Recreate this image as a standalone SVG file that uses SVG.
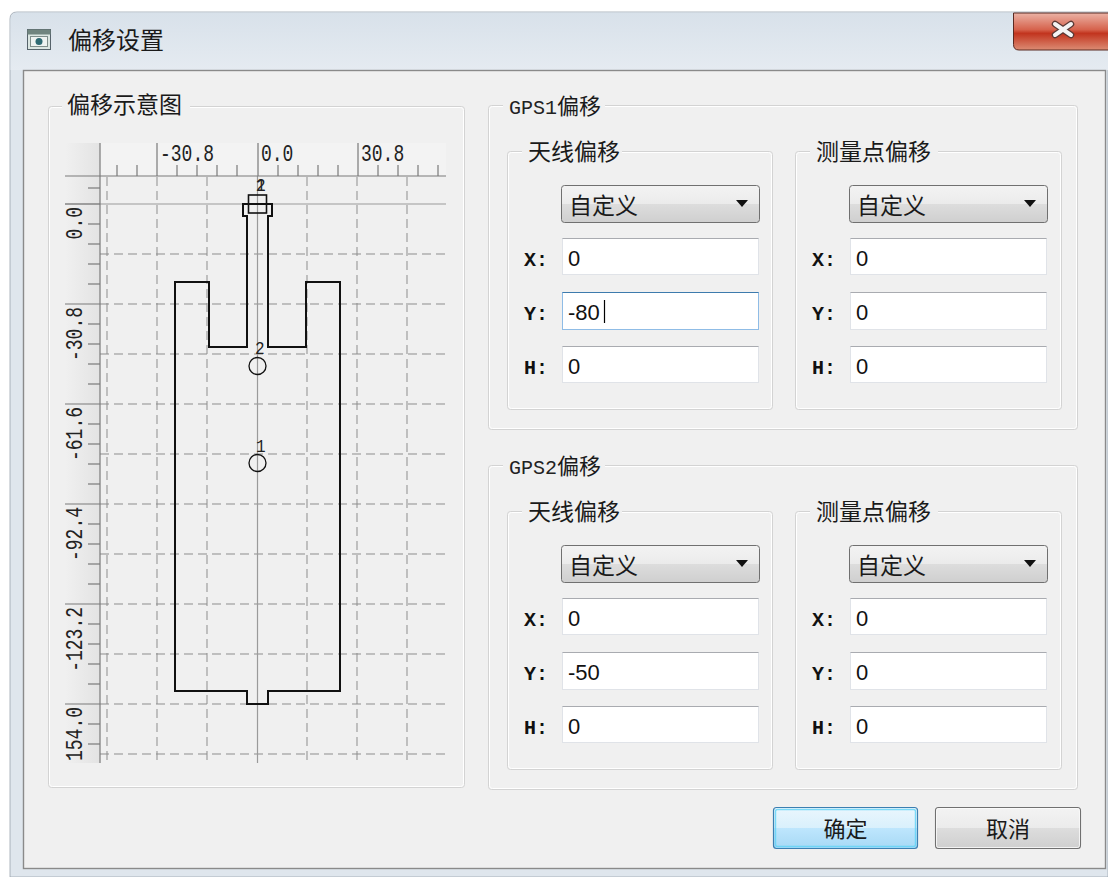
<svg xmlns="http://www.w3.org/2000/svg" width="1108" height="877" viewBox="0 0 1108 877">
<defs>
  <linearGradient id="gTitle" x1="0" y1="0" x2="0" y2="1">
    <stop offset="0" stop-color="#d8e1ea"/>
    <stop offset="1" stop-color="#e5ebf1"/>
  </linearGradient>
  <linearGradient id="gClose" x1="0" y1="0" x2="0" y2="1">
    <stop offset="0" stop-color="#ebb3a6"/>
    <stop offset="0.45" stop-color="#d6624c"/>
    <stop offset="0.55" stop-color="#c2341e"/>
    <stop offset="1" stop-color="#dc8c74"/>
  </linearGradient>
  <linearGradient id="gBtn" x1="0" y1="0" x2="0" y2="1">
    <stop offset="0" stop-color="#f3f3f3"/>
    <stop offset="0.5" stop-color="#ebebeb"/>
    <stop offset="0.5" stop-color="#dddddd"/>
    <stop offset="1" stop-color="#cfcfcf"/>
  </linearGradient>
  <linearGradient id="gBtnF" x1="0" y1="0" x2="0" y2="1">
    <stop offset="0" stop-color="#eaf6fd"/>
    <stop offset="0.5" stop-color="#d9f0fc"/>
    <stop offset="0.5" stop-color="#bee6fd"/>
    <stop offset="1" stop-color="#a7d9f5"/>
  </linearGradient>
  <linearGradient id="gRulerL" x1="0" y1="0" x2="1" y2="0">
    <stop offset="0" stop-color="#f0f0f0"/>
    <stop offset="1" stop-color="#e3e3e3"/>
  </linearGradient>
  <clipPath id="chartClip"><rect x="64" y="142" width="382" height="621"/></clipPath>
</defs>
<style>
  .cjk{font-family:"Noto Sans CJK SC","Noto Sans",sans-serif;fill:#1a1a1a}
  .mono{font-family:"Liberation Mono","DejaVu Sans Mono",monospace;fill:#222}
  .lbl{font-family:"Liberation Mono","DejaVu Sans Mono",monospace;font-size:20px;font-weight:bold;fill:#111}
  .val{font-family:"Liberation Sans",Arial,sans-serif;font-size:22px;fill:#111}
  .gb{fill:none;stroke:#d3d3d3;stroke-width:1}
  .gbh{fill:none;stroke:#ffffff;stroke-width:1}
  .gbt{fill:#f0f0f0}
  .inp{fill:#ffffff;stroke:#e0e3e8;stroke-width:1}
  .inpTop{stroke:#a9abb0;stroke-width:1}
  .combo{fill:url(#gBtn);stroke:#707070;stroke-width:1}
  .arrow{fill:#111}
  .grid{stroke:#8d8d8d;stroke-width:1;stroke-dasharray:9 5;fill:none}
  .rul{stroke:#7a7a7a;stroke-width:1.2;fill:none}
  .axis{stroke:#9a9a9a;stroke-width:1.2;fill:none}
  .shape{fill:none;stroke:#111;stroke-width:2}
  .pt{fill:none;stroke:#111;stroke-width:1.3}
</style>

<rect x="0" y="0" width="1108" height="877" fill="#ffffff"/>

<!-- window frame and title bar -->
<g id="window-frame">
  <path d="M10,19 Q10,12 17,12 H1108 V877 H10 Z" fill="#dfe6ed" stroke="#9aa3ad" stroke-width="0.8"/>
  <path d="M10.5,19 Q10.5,12.5 17,12.5 H1108 V70 H10.5 Z" fill="url(#gTitle)"/>
  <g id="title-icon">
    <rect x="27.5" y="29.5" width="23" height="20" fill="#dbe6e2" stroke="#56636b"/>
    <rect x="27.5" y="29.5" width="23" height="5" fill="#70857f"/>
    <rect x="30.5" y="36.5" width="17" height="10" fill="#eef3f1" stroke="#7f8f8b"/>
    <circle cx="39" cy="41.5" r="3.5" fill="#2f6b73"/>
  </g>
  <text class="cjk" x="68" y="49" font-size="24" fill="#222">偏移设置</text>
  <g id="close-button">
    <path d="M1013.5,13 H1110 V50 H1019 Q1013.5,50 1013.5,44.5 Z" fill="url(#gClose)" stroke="#5b2a22"/>
    <g stroke-linecap="round">
      <line x1="1055" y1="24" x2="1071" y2="35" stroke="#5a3a36" stroke-width="6.5"/>
      <line x1="1071" y1="24" x2="1055" y2="35" stroke="#5a3a36" stroke-width="6.5"/>
      <line x1="1055" y1="24" x2="1071" y2="35" stroke="#f4f4f4" stroke-width="4"/>
      <line x1="1071" y1="24" x2="1055" y2="35" stroke="#f4f4f4" stroke-width="4"/>
    </g>
  </g>
</g>

<!-- client area -->
<rect x="23.5" y="70.5" width="1082" height="798" fill="#f0f0f0" stroke="#8a8a8a" stroke-width="1.4"/>

<!-- left group: offset diagram -->
<g id="diagram-group">
  <rect class="gb" x="48.5" y="106.5" width="416" height="681" rx="3"/>
  <rect class="gbh" x="49.5" y="107.5" width="414" height="679" rx="3"/>
  <rect class="gbt" x="62" y="95" width="128" height="22"/>
  <text class="cjk" x="67" y="113" font-size="23">偏移示意图</text>

  <g id="chart" clip-path="url(#chartClip)">
    <!-- ruler bands -->
    <rect x="65" y="143" width="381" height="33" fill="#f3f3f3"/>
    <rect x="65" y="143" width="35" height="620" fill="url(#gRulerL)"/>

    <!-- dashed grid -->
    <g class="grid">
      <line x1="107" y1="177" x2="107" y2="763"/>
      <line x1="157" y1="177" x2="157" y2="763"/>
      <line x1="207" y1="177" x2="207" y2="763"/>
      <line x1="307" y1="177" x2="307" y2="763"/>
      <line x1="357" y1="177" x2="357" y2="763"/>
      <line x1="407" y1="177" x2="407" y2="763"/>
      <line x1="100" y1="254" x2="446" y2="254"/>
      <line x1="100" y1="304" x2="446" y2="304"/>
      <line x1="100" y1="354" x2="446" y2="354"/>
      <line x1="100" y1="404" x2="446" y2="404"/>
      <line x1="100" y1="454" x2="446" y2="454"/>
      <line x1="100" y1="504" x2="446" y2="504"/>
      <line x1="100" y1="554" x2="446" y2="554"/>
      <line x1="100" y1="604" x2="446" y2="604"/>
      <line x1="100" y1="654" x2="446" y2="654"/>
      <line x1="100" y1="704" x2="446" y2="704"/>
      <line x1="100" y1="754" x2="446" y2="754"/>
    </g>

    <!-- axes through origin -->
    <line class="axis" x1="257.5" y1="176" x2="257.5" y2="763"/>
    <line class="axis" x1="65" y1="204" x2="446" y2="204"/>

    <!-- rulers -->
    <g class="rul">
      <line x1="100" y1="143" x2="100" y2="763"/>
      <line x1="65" y1="176" x2="446" y2="176"/>
      <line x1="157" y1="143" x2="157" y2="176"/>
      <line x1="258" y1="143" x2="258" y2="176"/>
      <line x1="358" y1="143" x2="358" y2="176"/>
      <line x1="117" y1="165" x2="117" y2="176"/>
      <line x1="137" y1="165" x2="137" y2="176"/>
      <line x1="177" y1="165" x2="177" y2="176"/>
      <line x1="197" y1="165" x2="197" y2="176"/>
      <line x1="217" y1="165" x2="217" y2="176"/>
      <line x1="237" y1="165" x2="237" y2="176"/>
      <line x1="278" y1="165" x2="278" y2="176"/>
      <line x1="298" y1="165" x2="298" y2="176"/>
      <line x1="318" y1="165" x2="318" y2="176"/>
      <line x1="338" y1="165" x2="338" y2="176"/>
      <line x1="378" y1="165" x2="378" y2="176"/>
      <line x1="398" y1="165" x2="398" y2="176"/>
      <line x1="418" y1="165" x2="418" y2="176"/>
      <line x1="438" y1="165" x2="438" y2="176"/>
      <line x1="65" y1="204" x2="100" y2="204"/>
      <line x1="65" y1="304" x2="100" y2="304"/>
      <line x1="65" y1="404" x2="100" y2="404"/>
      <line x1="65" y1="504" x2="100" y2="504"/>
      <line x1="65" y1="604" x2="100" y2="604"/>
      <line x1="65" y1="704" x2="100" y2="704"/>
      <line x1="88" y1="188" x2="100" y2="188"/>
      <line x1="88" y1="224" x2="100" y2="224"/>
      <line x1="88" y1="244" x2="100" y2="244"/>
      <line x1="88" y1="264" x2="100" y2="264"/>
      <line x1="88" y1="284" x2="100" y2="284"/>
      <line x1="88" y1="324" x2="100" y2="324"/>
      <line x1="88" y1="344" x2="100" y2="344"/>
      <line x1="88" y1="364" x2="100" y2="364"/>
      <line x1="88" y1="384" x2="100" y2="384"/>
      <line x1="88" y1="424" x2="100" y2="424"/>
      <line x1="88" y1="444" x2="100" y2="444"/>
      <line x1="88" y1="464" x2="100" y2="464"/>
      <line x1="88" y1="484" x2="100" y2="484"/>
      <line x1="88" y1="524" x2="100" y2="524"/>
      <line x1="88" y1="544" x2="100" y2="544"/>
      <line x1="88" y1="564" x2="100" y2="564"/>
      <line x1="88" y1="584" x2="100" y2="584"/>
      <line x1="88" y1="624" x2="100" y2="624"/>
      <line x1="88" y1="644" x2="100" y2="644"/>
      <line x1="88" y1="664" x2="100" y2="664"/>
      <line x1="88" y1="684" x2="100" y2="684"/>
      <line x1="88" y1="724" x2="100" y2="724"/>
      <line x1="88" y1="744" x2="100" y2="744"/>
    </g>

    <!-- ruler labels -->
    <g class="mono" font-size="18">
      <text transform="translate(160,161) scale(1,1.3)">-30.8</text>
      <text transform="translate(261,161) scale(1,1.3)">0.0</text>
      <text transform="translate(361,161) scale(1,1.3)">30.8</text>
      <g text-anchor="end">
        <text transform="translate(82,207) rotate(-90) scale(1,1.3)">0.0</text>
        <text transform="translate(82,307) rotate(-90) scale(1,1.3)">-30.8</text>
        <text transform="translate(82,407) rotate(-90) scale(1,1.3)">-61.6</text>
        <text transform="translate(82,507) rotate(-90) scale(1,1.3)">-92.4</text>
        <text transform="translate(82,607) rotate(-90) scale(1,1.3)">-123.2</text>
        <text transform="translate(82,707) rotate(-90) scale(1,1.3)">154.0</text>
      </g>
    </g>

    <!-- vehicle outline -->
    <path class="shape" d="M175,282 H209 V347 H247 V216 H243 V204 H272 V216 H268 V347 H306 V282 H340 V691 H268 V704 H247 V691 H175 Z"/>
    <rect x="248.5" y="195" width="18" height="18" fill="none" stroke="#111" stroke-width="1.6"/>

    <!-- points -->
    <circle class="pt" cx="257.5" cy="366" r="8.5"/>
    <circle class="pt" cx="257.5" cy="463" r="8.5"/>
    <g class="mono" font-size="16" fill="#111">
      <text transform="translate(256,191) scale(1,1.2)">1</text>
      <text transform="translate(256,191) scale(1,1.2)">2</text>
      <text transform="translate(255,354) scale(1,1.2)">2</text>
      <text transform="translate(256,452) scale(1,1.2)">1</text>
    </g>
  </g>
</g>

<!-- GPS1 offset group -->
<g id="gps1">
  <rect class="gb" x="488.5" y="105.5" width="589" height="324" rx="3"/>
  <rect class="gbh" x="489.5" y="106.5" width="587" height="322" rx="3"/>
  <rect class="gbt" x="503" y="95" width="102" height="22"/>
  <text x="509" y="114"><tspan class="mono" font-size="20" fill="#111">GPS1</tspan><tspan class="cjk" font-size="22">偏移</tspan></text>

  <g id="gps1-antenna">
    <rect class="gb" x="507.5" y="151.5" width="265" height="258" rx="3"/>
    <rect class="gbh" x="508.5" y="152.5" width="263" height="256" rx="3"/>
    <rect class="gbt" x="522" y="140" width="100" height="24"/>
    <text class="cjk" x="528" y="160" font-size="23">天线偏移</text>
    <rect class="combo" x="561.5" y="185.5" width="198" height="37" rx="3"/>
    <text class="cjk" x="569" y="214" font-size="23">自定义</text>
    <polygon class="arrow" points="736,200 748,200 742,207"/>
    <rect class="inp" x="562.5" y="238.5" width="196" height="36"/>
    <line class="inpTop" x1="562.5" y1="238.5" x2="758.5" y2="238.5"/>
    <rect x="562.5" y="292.5" width="196" height="37" fill="#ffffff" stroke="#8fbce6" stroke-width="1"/>
    <line x1="562.5" y1="292.5" x2="758.5" y2="292.5" stroke="#3d7bad" stroke-width="1"/>
    <rect class="inp" x="562.5" y="346.5" width="196" height="36"/>
    <line class="inpTop" x1="562.5" y1="346.5" x2="758.5" y2="346.5"/>
    <text class="lbl" x="524" y="266">X:</text>
    <text class="lbl" x="524" y="320">Y:</text>
    <text class="lbl" x="524" y="374">H:</text>
    <text class="val" x="568" y="266">0</text>
    <text class="val" x="568" y="320">-80</text>
    <line x1="604.5" y1="300" x2="604.5" y2="323" stroke="#000" stroke-width="1.2"/>
    <text class="val" x="568" y="374">0</text>
  </g>

  <g id="gps1-point">
    <rect class="gb" x="795.5" y="151.5" width="266" height="258" rx="3"/>
    <rect class="gbh" x="796.5" y="152.5" width="264" height="256" rx="3"/>
    <rect class="gbt" x="810" y="140" width="128" height="24"/>
    <text class="cjk" x="816" y="160" font-size="23">测量点偏移</text>
    <rect class="combo" x="849.5" y="185.5" width="198" height="37" rx="3"/>
    <text class="cjk" x="857" y="214" font-size="23">自定义</text>
    <polygon class="arrow" points="1024,200 1036,200 1030,207"/>
    <rect class="inp" x="850.5" y="238.5" width="196" height="36"/>
    <line class="inpTop" x1="850.5" y1="238.5" x2="1046.5" y2="238.5"/>
    <rect class="inp" x="850.5" y="292.5" width="196" height="37"/>
    <line class="inpTop" x1="850.5" y1="292.5" x2="1046.5" y2="292.5"/>
    <rect class="inp" x="850.5" y="346.5" width="196" height="36"/>
    <line class="inpTop" x1="850.5" y1="346.5" x2="1046.5" y2="346.5"/>
    <text class="lbl" x="812" y="266">X:</text>
    <text class="lbl" x="812" y="320">Y:</text>
    <text class="lbl" x="812" y="374">H:</text>
    <text class="val" x="856" y="266">0</text>
    <text class="val" x="856" y="320">0</text>
    <text class="val" x="856" y="374">0</text>
  </g>
</g>

<!-- GPS2 offset group -->
<g id="gps2" transform="translate(0,360)">
  <rect class="gb" x="488.5" y="105.5" width="589" height="324" rx="3"/>
  <rect class="gbh" x="489.5" y="106.5" width="587" height="322" rx="3"/>
  <rect class="gbt" x="503" y="95" width="102" height="22"/>
  <text x="509" y="114"><tspan class="mono" font-size="20" fill="#111">GPS2</tspan><tspan class="cjk" font-size="22">偏移</tspan></text>

  <g id="gps2-antenna">
    <rect class="gb" x="507.5" y="151.5" width="265" height="258" rx="3"/>
    <rect class="gbh" x="508.5" y="152.5" width="263" height="256" rx="3"/>
    <rect class="gbt" x="522" y="140" width="100" height="24"/>
    <text class="cjk" x="528" y="160" font-size="23">天线偏移</text>
    <rect class="combo" x="561.5" y="185.5" width="198" height="37" rx="3"/>
    <text class="cjk" x="569" y="214" font-size="23">自定义</text>
    <polygon class="arrow" points="736,200 748,200 742,207"/>
    <rect class="inp" x="562.5" y="238.5" width="196" height="36"/>
    <line class="inpTop" x1="562.5" y1="238.5" x2="758.5" y2="238.5"/>
    <rect class="inp" x="562.5" y="292.5" width="196" height="37"/>
    <line class="inpTop" x1="562.5" y1="292.5" x2="758.5" y2="292.5"/>
    <rect class="inp" x="562.5" y="346.5" width="196" height="36"/>
    <line class="inpTop" x1="562.5" y1="346.5" x2="758.5" y2="346.5"/>
    <text class="lbl" x="524" y="266">X:</text>
    <text class="lbl" x="524" y="320">Y:</text>
    <text class="lbl" x="524" y="374">H:</text>
    <text class="val" x="568" y="266">0</text>
    <text class="val" x="568" y="320">-50</text>
    <text class="val" x="568" y="374">0</text>
  </g>

  <g id="gps2-point">
    <rect class="gb" x="795.5" y="151.5" width="266" height="258" rx="3"/>
    <rect class="gbh" x="796.5" y="152.5" width="264" height="256" rx="3"/>
    <rect class="gbt" x="810" y="140" width="128" height="24"/>
    <text class="cjk" x="816" y="160" font-size="23">测量点偏移</text>
    <rect class="combo" x="849.5" y="185.5" width="198" height="37" rx="3"/>
    <text class="cjk" x="857" y="214" font-size="23">自定义</text>
    <polygon class="arrow" points="1024,200 1036,200 1030,207"/>
    <rect class="inp" x="850.5" y="238.5" width="196" height="36"/>
    <line class="inpTop" x1="850.5" y1="238.5" x2="1046.5" y2="238.5"/>
    <rect class="inp" x="850.5" y="292.5" width="196" height="37"/>
    <line class="inpTop" x1="850.5" y1="292.5" x2="1046.5" y2="292.5"/>
    <rect class="inp" x="850.5" y="346.5" width="196" height="36"/>
    <line class="inpTop" x1="850.5" y1="346.5" x2="1046.5" y2="346.5"/>
    <text class="lbl" x="812" y="266">X:</text>
    <text class="lbl" x="812" y="320">Y:</text>
    <text class="lbl" x="812" y="374">H:</text>
    <text class="val" x="856" y="266">0</text>
    <text class="val" x="856" y="320">0</text>
    <text class="val" x="856" y="374">0</text>
  </g>
</g>

<!-- dialog buttons -->
<g id="btn-ok">
  <rect x="773.5" y="807.5" width="144" height="41" rx="3" fill="url(#gBtnF)" stroke="#3c7fb1" stroke-width="1.2"/>
  <rect x="775.5" y="809.5" width="140" height="37" rx="2" fill="none" stroke="#5fd3f6" stroke-width="1.4" opacity="0.8"/>
  <text class="cjk" x="845.5" y="837" font-size="22" text-anchor="middle">确定</text>
</g>
<g id="btn-cancel">
  <rect x="935.5" y="807.5" width="145" height="41" rx="3" fill="url(#gBtn)" stroke="#707070" stroke-width="1.1"/>
  <rect x="936.5" y="808.5" width="143" height="39" rx="2" fill="none" stroke="#fbfbfb" stroke-width="1" opacity="0.8"/>
  <text class="cjk" x="1008" y="837" font-size="22" text-anchor="middle">取消</text>
</g>
</svg>
